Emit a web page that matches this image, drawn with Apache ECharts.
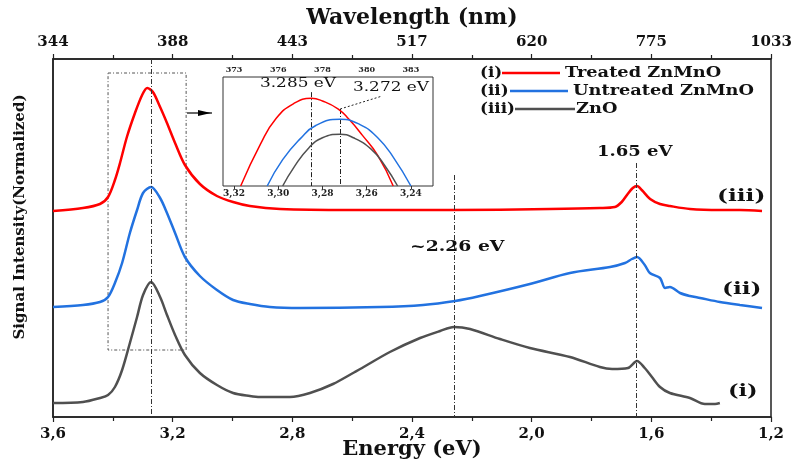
<!DOCTYPE html>
<html>
<head>
<meta charset="utf-8">
<script src="https://cdn.jsdelivr.net/npm/echarts@6/dist/echarts.min.js"></script>
<style>
html, body { margin: 0; padding: 0; background: #fff; }
#main { width: 798px; height: 462px; }
</style>
</head>
<body>
<div id="main"></div>
<script>
// bottom axis ticks (eV) and the wavelength shown above them (nm)
const energyTicks = [1.2, 1.6, 2.0, 2.4, 2.8, 3.2, 3.6]
const wavelengthLabels = ['1033', '775', '620', '517', '443', '388', '344']
// inset axis
const insetTicks = [3.24, 3.26, 3.28, 3.30, 3.32]
const insetWavelengths = ['383', '380', '378', '376', '373']

// (i) Treated ZnMnO : [energy, normalized intensity + offset]
const treated = [
  [3.600, 2.06], [3.500, 2.09], [3.443, 2.13], [3.416, 2.20], [3.393, 2.37], [3.376, 2.54],
  [3.353, 2.80], [3.326, 3.04], [3.302, 3.22], [3.285, 3.29], [3.266, 3.25], [3.242, 3.10],
  [3.219, 2.94], [3.192, 2.74], [3.159, 2.52], [3.109, 2.33], [3.052, 2.21], [2.998, 2.15],
  [2.942, 2.11], [2.841, 2.08], [2.607, 2.07], [2.273, 2.07], [1.939, 2.08], [1.772, 2.09],
  [1.722, 2.10], [1.699, 2.15], [1.679, 2.23], [1.662, 2.29], [1.648, 2.31], [1.632, 2.27],
  [1.604, 2.18], [1.571, 2.13], [1.538, 2.11], [1.471, 2.08], [1.371, 2.07], [1.304, 2.07],
  [1.230, 2.06]
]
// (ii) Untreated ZnMnO
const untreated = [
  [3.600, 1.10], [3.500, 1.12], [3.443, 1.15], [3.416, 1.20], [3.393, 1.34], [3.369, 1.54],
  [3.343, 1.84], [3.319, 2.07], [3.299, 2.24], [3.272, 2.30], [3.242, 2.19], [3.219, 2.04],
  [3.192, 1.84], [3.159, 1.60], [3.109, 1.41], [3.052, 1.27], [2.998, 1.17], [2.942, 1.13],
  [2.875, 1.10], [2.774, 1.09], [2.507, 1.10], [2.363, 1.12], [2.256, 1.16], [2.173, 1.21],
  [2.006, 1.33], [1.872, 1.44], [1.738, 1.50], [1.688, 1.54], [1.665, 1.58], [1.648, 1.60],
  [1.622, 1.52], [1.605, 1.44], [1.571, 1.39], [1.554, 1.29], [1.538, 1.30], [1.504, 1.24],
  [1.471, 1.21], [1.437, 1.19], [1.371, 1.15], [1.304, 1.12], [1.230, 1.09]
]
// (iii) ZnO
const zno = [
  [3.600, 0.14], [3.500, 0.15], [3.443, 0.19], [3.416, 0.22], [3.393, 0.30], [3.369, 0.47],
  [3.343, 0.74], [3.319, 1.00], [3.299, 1.22], [3.272, 1.35], [3.242, 1.20], [3.219, 1.02],
  [3.192, 0.82], [3.159, 0.62], [3.109, 0.44], [3.052, 0.32], [2.998, 0.24], [2.942, 0.21],
  [2.908, 0.20], [2.808, 0.20], [2.741, 0.24], [2.664, 0.33], [2.591, 0.45], [2.567, 0.49],
  [2.474, 0.65], [2.373, 0.79], [2.306, 0.86], [2.260, 0.90], [2.206, 0.88], [2.106, 0.78],
  [2.006, 0.69], [1.872, 0.60], [1.772, 0.50], [1.731, 0.48], [1.678, 0.49], [1.648, 0.56],
  [1.622, 0.49], [1.598, 0.40], [1.571, 0.30], [1.538, 0.24], [1.471, 0.19], [1.421, 0.13],
  [1.387, 0.13], [1.371, 0.14]
]

// inset: tops of the band-edge peaks
const treatedTop = [
  [3.317, 0], [3.308, 0.48], [3.301, 0.77], [3.293, 0.94], [3.285, 1.0], [3.280, 0.97],
  [3.273, 0.88], [3.268, 0.76], [3.262, 0.58], [3.255, 0.35], [3.248, 0]
]
const untreatedTop = [
  [3.305, 0], [3.298, 0.30], [3.290, 0.54], [3.283, 0.69], [3.272, 0.76], [3.263, 0.70],
  [3.255, 0.55], [3.248, 0.33], [3.240, 0]
]
const znoTop = [
  [3.298, 0], [3.293, 0.21], [3.286, 0.44], [3.280, 0.55], [3.272, 0.59], [3.266, 0.55],
  [3.258, 0.42], [3.252, 0.24], [3.246, 0]
]

// marked energies
const peakTreated = 3.285
const peakUntreated = 3.272
const greenBand = 2.26
const redBand = 1.65

const serif = 'DejaVu Serif'
const RED = '#ff0000'
const BLUE = '#2272e0'
const GRAY = '#505050'
const dashDot = [5, 2, 1, 2]

const chart = echarts.init(document.getElementById('main'))

function label(text, x, y, size, bold, sx, extra) {
  return Object.assign({
    type: 'text', x: x, y: y, scaleX: sx || 1, z: 100,
    style: {
      text: text, fill: '#111',
      font: (bold ? 'bold ' : '') + size + 'px "' + serif + '"',
      textAlign: 'left', textVerticalAlign: 'middle'
    }
  }, extra || {})
}
function legendRow(tag, name, color, y, x1, x2, xt) {
  return [
    label(tag, 480, y, 14, true, 1.2),
    { type: 'line', z: 100, shape: { x1: x1, y1: y, x2: x2, y2: y }, style: { stroke: color, lineWidth: 2.5 } },
    label(name, xt, y, 14, true, 1.27)
  ]
}

const option = {
  animation: false,
  grid: [
    { left: 53, right: 27, top: 59, bottom: 45, outerBoundsMode: 'none', containLabel: false,
      show: true, borderColor: '#222', borderWidth: 1.5 },
    { left: 223, top: 77, width: 210, height: 109, outerBoundsMode: 'none', containLabel: false,
      show: true, borderColor: '#333', borderWidth: 1 }
  ],
  xAxis: [
    {
      type: 'value', gridIndex: 0, position: 'bottom', inverse: true,
      min: 1.2, max: 3.6, interval: 0.4,
      name: 'Energy (eV)', nameLocation: 'middle', nameGap: 22, nameMoveOverlap: false,
      nameTextStyle: { fontFamily: serif, fontWeight: 'bold', fontSize: 21, color: '#111' },
      axisLine: { lineStyle: { color: '#222', width: 1.5 } },
      axisTick: { length: 5, lineStyle: { color: '#222', width: 1.2 } },
      minorTick: { show: true, splitNumber: 2, length: 4, lineStyle: { color: '#222', width: 1.2 } },
      splitLine: { show: false },
      axisLabel: {
        fontFamily: serif, fontWeight: 'bold', fontSize: 15, color: '#111', margin: 10,
        formatter: v => v.toFixed(1).replace('.', ',')
      }
    },
    {
      type: 'value', gridIndex: 0, position: 'top', inverse: true,
      min: 1.2, max: 3.6, interval: 0.4,
      name: 'Wavelength (nm)', nameLocation: 'middle', nameGap: 30, nameMoveOverlap: false,
      nameTextStyle: { fontFamily: serif, fontWeight: 'bold', fontSize: 22, color: '#111' },
      axisLine: { lineStyle: { color: '#222', width: 1.5 } },
      axisTick: { length: 5, lineStyle: { color: '#222', width: 1.2 } },
      minorTick: { show: true, splitNumber: 2, length: 4, lineStyle: { color: '#222', width: 1.2 } },
      splitLine: { show: false },
      axisLabel: {
        fontFamily: serif, fontWeight: 'bold', fontSize: 15, color: '#111', margin: 9,
        formatter: v => {
          const i = energyTicks.findIndex(t => Math.abs(t - v) < 1e-6)
          return i >= 0 ? wavelengthLabels[i] : ''
        }
      }
    },
    {
      type: 'value', gridIndex: 1, position: 'bottom', inverse: true,
      min: 3.23, max: 3.325,
      axisLine: { show: false },
      axisTick: { show: true, customValues: insetTicks, length: 3, lineStyle: { color: '#333' } },
      splitLine: { show: false },
      axisLabel: {
        customValues: insetTicks, fontFamily: serif, fontWeight: 'bold', fontSize: 9, color: '#222', margin: 3,
        formatter: v => v.toFixed(2).replace('.', ',')
      }
    },
    {
      type: 'value', gridIndex: 1, position: 'top', inverse: true,
      min: 3.23, max: 3.325,
      axisLine: { show: false },
      axisTick: { show: false },
      splitLine: { show: false },
      axisLabel: {
        customValues: insetTicks, fontFamily: serif, fontWeight: 'bold', fontSize: 8, color: '#222', margin: 3,
        formatter: v => {
          const i = insetTicks.findIndex(t => Math.abs(t - v) < 1e-6)
          return i >= 0 ? insetWavelengths[i] : ''
        }
      }
    }
  ],
  yAxis: [
    {
      type: 'value', gridIndex: 0, min: 0, max: 3.58,
      axisLine: { show: true, lineStyle: { color: '#222', width: 1.5 } },
      axisTick: { show: false }, axisLabel: { show: false }, splitLine: { show: false }
    },
    {
      type: 'value', gridIndex: 1, min: 0, max: 1.243, show: false, splitLine: { show: false }
    }
  ],
  series: [
    {
      name: 'Treated ZnMnO', type: 'line', data: treated, xAxisIndex: 0, yAxisIndex: 0,
      smooth: 0.3, showSymbol: false, lineStyle: { color: RED, width: 2.5 }, itemStyle: { color: RED },
      markLine: {
        silent: true, symbol: ['none', 'none'], label: { show: false },
        lineStyle: { color: '#333', width: 1, type: dashDot },
        data: [
          [{ coord: [peakUntreated, 3.58] }, { coord: [peakUntreated, 0] }],
          [{ coord: [greenBand, 2.42] }, { coord: [greenBand, 0] }],
          [{ coord: [redBand, 2.54] }, { coord: [redBand, 0] }]
        ]
      },
      markArea: {
        silent: true, label: { show: false },
        itemStyle: { color: 'rgba(0,0,0,0)', borderColor: '#555', borderWidth: 1, borderType: [3, 2, 1, 2] },
        data: [[{ coord: [3.416, 3.44] }, { coord: [3.155, 0.67] }]]
      }
    },
    {
      name: 'Untreated ZnMnO', type: 'line', data: untreated, xAxisIndex: 0, yAxisIndex: 0,
      smooth: 0.3, showSymbol: false, lineStyle: { color: BLUE, width: 2.5 }, itemStyle: { color: BLUE }
    },
    {
      name: 'ZnO', type: 'line', data: zno, xAxisIndex: 0, yAxisIndex: 0,
      smooth: 0.3, showSymbol: false, lineStyle: { color: GRAY, width: 2.5 }, itemStyle: { color: GRAY }
    },
    {
      type: 'line', data: treatedTop, xAxisIndex: 2, yAxisIndex: 1, z: 6,
      smooth: true, showSymbol: false, lineStyle: { color: RED, width: 1.5 },
      markLine: {
        silent: true, symbol: ['none', 'none'], label: { show: false },
        lineStyle: { color: '#222', width: 1, type: dashDot },
        data: [
          [{ coord: [peakTreated, 1.07] }, { coord: [peakTreated, 0] }],
          [{ coord: [peakUntreated, 0.878] }, { coord: [peakUntreated, 0] }],
          [{ coord: [peakUntreated, 0.878], lineStyle: { type: [2, 2] } }, { coord: [3.253, 1.026] }]
        ]
      }
    },
    {
      type: 'line', data: untreatedTop, xAxisIndex: 2, yAxisIndex: 1, z: 6,
      smooth: true, showSymbol: false, lineStyle: { color: BLUE, width: 1.5 }
    },
    {
      type: 'line', data: znoTop, xAxisIndex: 2, yAxisIndex: 1, z: 6,
      smooth: true, showSymbol: false, lineStyle: { color: GRAY, width: 1.5 }
    }
  ],
  graphic: [
    ...legendRow('(i)', 'Treated ZnMnO', RED, 73, 502, 560, 565),
    ...legendRow('(ii)', 'Untreated ZnMnO', BLUE, 91, 510, 568, 573),
    ...legendRow('(iii)', 'ZnO', GRAY, 109, 515, 575, 576),
    label('(iii)', 717, 197, 16, true, 1.45),
    label('(ii)', 722, 290, 16, true, 1.45),
    label('(i)', 728, 392, 16, true, 1.4),
    label('1.65 eV', 597, 152, 15, true, 1.2),
    label('~2.26 eV', 410, 247, 15, true, 1.25),
    label('3.285 eV', 260, 84, 13, false, 1.3),
    label('3.272 eV', 353, 88, 13, false, 1.3),
    label('Signal Intensity(Normalized)', 20, 217, 15, true, 1, {
      rotation: Math.PI / 2,
      style: { text: 'Signal Intensity(Normalized)', fill: '#111', font: 'bold 15px "' + serif + '"',
        textAlign: 'center', textVerticalAlign: 'middle' }
    }),
    { type: 'line', z: 100, shape: { x1: 187, y1: 113, x2: 212, y2: 113 }, style: { stroke: '#000', lineWidth: 1.2 } },
    { type: 'polygon', z: 100, shape: { points: [[198, 110], [211, 113], [198, 116]] }, style: { fill: '#000' } }
  ]
}

chart.setOption(option)
</script>
</body>
</html>
